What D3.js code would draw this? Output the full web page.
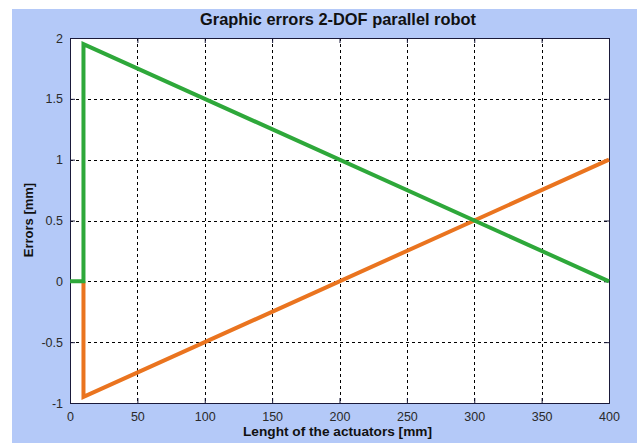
<!DOCTYPE html>
<html><head><meta charset="utf-8">
<script src="https://cdn.jsdelivr.net/npm/d3@7"></script>
<style>body{margin:0;background:#fff;}svg{display:block;font-family:"Liberation Sans",Arial,sans-serif;}</style>
</head><body>
<script>
const xTicks = [0,50,100,150,200,250,300,350,400];
const yTicks = [-1,-0.5,0,0.5,1,1.5,2];
const greenX = [0,10,10,400];
const greenY = [0,0,1.95,0];
const orangeX = [10,10,400];
const orangeY = [0,-0.95,1];
const title = "Graphic errors 2-DOF parallel robot";
const xLabel = "Lenght of the actuators [mm]";
const yLabel = "Errors [mm]";

const W=637,H=443;
const svg=d3.select("body").append("svg").attr("width",W).attr("height",H);
svg.append("rect").attr("x",12).attr("y",9).attr("width",W-12).attr("height",H-9).attr("fill","#b4c9f8");
const L=70,R=609,T=38,B=403;
const x=d3.scaleLinear().domain([0,400]).range([L,R]);
const y=d3.scaleLinear().domain([-1,2]).range([B,T]);
svg.append("rect").attr("x",L).attr("y",T).attr("width",R-L).attr("height",B-T).attr("fill","#fff");
const g=svg.append("g");
// grid
g.selectAll(".gx").data(xTicks.slice(1,-1)).join("line").attr("x1",d=>Math.round(x(d))+0.5).attr("x2",d=>Math.round(x(d))+0.5).attr("y1",T).attr("y2",B)
 .attr("stroke","#000").attr("stroke-width",1).attr("stroke-dasharray","3,3");
g.selectAll(".gy").data(yTicks.slice(1,-1)).join("line").attr("y1",d=>Math.round(y(d))+0.5).attr("y2",d=>Math.round(y(d))+0.5).attr("x1",L).attr("x2",R)
 .attr("stroke","#000").attr("stroke-width",1).attr("stroke-dasharray","3,3");
// axes
const ax=svg.append("g").attr("transform",`translate(0,${B})`).call(d3.axisBottom(x).tickValues(xTicks).tickSize(-5).tickPadding(9).tickFormat(d3.format("d")));
const ay=svg.append("g").attr("transform",`translate(${L},0)`).call(d3.axisLeft(y).tickValues(yTicks).tickSize(-5).tickPadding(7).tickFormat(d=>String(d)));
const at=svg.append("g").attr("transform",`translate(0,${T})`).call(d3.axisTop(x).tickValues(xTicks).tickSize(-5).tickFormat(""));
const ar=svg.append("g").attr("transform",`translate(${R},0)`).call(d3.axisRight(y).tickValues(yTicks).tickSize(-5).tickFormat(""));
[ax,ay,at,ar].forEach(a=>{a.select(".domain").attr("stroke","#1a1a3a");a.selectAll(".tick line").attr("stroke","#1a1a3a");
 a.selectAll("text").attr("fill","#2a2a2a").attr("font-size",12.5).attr("font-family","Liberation Sans, Arial, sans-serif");});
// lines
const line=d3.line().x(d=>x(d[0])).y(d=>y(d[1]));
svg.append("path").datum(orangeX.map((v,i)=>[v,orangeY[i]])).attr("d",line).attr("fill","none").attr("stroke","#ea741f").attr("stroke-width",4).attr("stroke-linejoin","miter");
svg.append("path").datum(greenX.map((v,i)=>[v,greenY[i]])).attr("d",line).attr("fill","none").attr("stroke","#2ea83a").attr("stroke-width",4).attr("stroke-linejoin","miter");
// text
svg.append("text").attr("x",338).attr("y",25).attr("text-anchor","middle").attr("font-weight","bold").attr("font-size",16.5).attr("fill","#111")
 .attr("textLength",276).attr("lengthAdjust","spacingAndGlyphs").text(title);
svg.append("text").attr("x",337.5).attr("y",436).attr("text-anchor","middle").attr("font-weight","bold").attr("font-size",13.5).attr("fill","#111")
 .attr("textLength",189).attr("lengthAdjust","spacingAndGlyphs").text(xLabel);
svg.append("text").attr("transform",`translate(33,220) rotate(-90)`).attr("text-anchor","middle").attr("font-weight","bold").attr("font-size",13).attr("fill","#111")
 .text(yLabel);
</script>
</body></html>
